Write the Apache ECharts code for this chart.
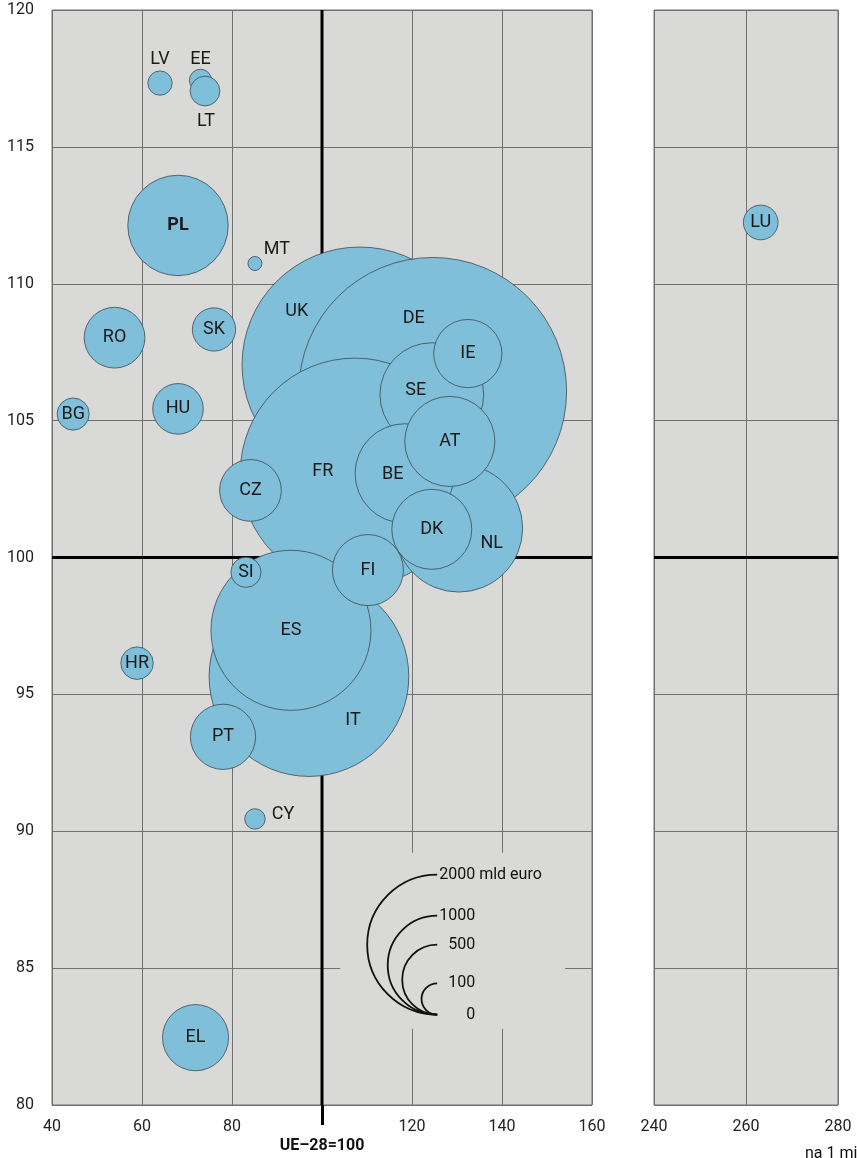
<!DOCTYPE html>
<html>
<head>
<meta charset="utf-8">
<script src="https://cdn.jsdelivr.net/npm/echarts@6/dist/echarts.min.js"></script>
<style>
  html, body { margin: 0; padding: 0; background: #fff; }
  #chart { width: 857px; height: 1158px; }
</style>
</head>
<body>
<div id="chart"></div>
<script>
// country codes in drawing order (first drawn = bottom)
const codes = ['UK', 'DE', 'FR', 'IT', 'ES', 'SE', 'NL', 'BE', 'IE', 'AT', 'DK', 'FI', 'CZ', 'SI', 'PT',
  'PL', 'MT', 'RO', 'SK', 'HU', 'BG', 'LV', 'EE', 'LT', 'HR', 'CY', 'EL', 'LU'];
// x: UE-28 = 100
const xVals = [108.4, 124.6, 107.3, 97.1, 93.1, 124.4, 130.4, 118.4, 132.4, 128.4, 124.4, 110.2, 84.1, 83.1, 78.0,
  68.0, 85.1, 53.9, 76.0, 68.0, 44.7, 64.0, 73.0, 74.0, 58.9, 85.1, 71.9, 263.2];
const yVals = [107.04, 106.07, 103.1, 95.65, 97.34, 105.95, 101.07, 103.07, 107.45, 104.24, 101.03, 99.54, 102.45, 99.46, 93.45,
  112.13, 110.74, 108.03, 108.33, 105.43, 105.24, 117.33, 117.43, 117.04, 96.14, 90.45, 82.46, 112.24];
// bubble size: mld euro
const gdp = [2255, 2915, 2132, 1621, 1041, 437, 663, 402, 189, 330, 260, 205, 155, 37, 173,
  410, 8, 150, 76, 104, 42, 24, 20, 36, 43, 17, 178, 49];

const xTicksLeft = [40, 60, 80, 120, 140, 160];
const legendValues = [2000, 1000, 500, 100, 0];
const legendAnchor = [125.6, 83.3];
const refX = 100, refY = 100;

const FONT = '"Roboto", "Liberation Sans", sans-serif';
const bubbleK = 2.48;      // px per sqrt(mld euro)
const legendK = 1.565;
const gridColor = '#707070';
const bg = '#d9dad8';

// label shifts for crowded bubbles (px)
const labelShift = {
  LV: [0, -24], EE: [0, -21], LT: [1, 30], MT: [22, -14], CY: [28, -4],
  UK: [-63, -53], DE: [-19, -73], FR: [-32, -1], SE: [-16, -4], BE: [-12, 1],
  NL: [33, 15], IT: [44, 44]
};

function items(right) {
  const out = [];
  codes.forEach((c, i) => {
    if ((xVals[i] > 200) !== right) return;
    out.push({
      name: c,
      value: [xVals[i], yVals[i], gdp[i]],
      label: {
        offset: labelShift[c] || [0, 0],
        fontWeight: c === 'PL' ? 'bold' : 'normal'
      }
    });
  });
  return out;
}

const chart = echarts.init(document.getElementById('chart'));

const axisText = { fontSize: 16, color: '#222', fontFamily: FONT };
const bubbleStyle = {
  type: 'scatter',
  symbolSize: v => 2 * bubbleK * Math.sqrt(v[2]),
  itemStyle: { color: '#7fbfd9', borderColor: '#3c4a52', borderWidth: 0.8, opacity: 1 },
  label: { show: true, position: 'inside', formatter: '{b}', fontSize: 18, color: '#1a1a1a', fontFamily: FONT },
  emphasis: { disabled: true },
  silent: true,
  z: 3
};
const refLine = { type: 'line', symbol: 'none', silent: true, z: 2, lineStyle: { color: '#000', width: 3 } };

let option = {
  animation: false,
  backgroundColor: '#fff',
  grid: [
    { left: 52, top: 10, width: 540, height: 1095, show: true, backgroundColor: bg, borderColor: gridColor, borderWidth: 1 },
    { left: 654, top: 10, width: 184, height: 1095, show: true, backgroundColor: bg, borderColor: gridColor, borderWidth: 1 }
  ],
  xAxis: [
    {
      gridIndex: 0, type: 'value', min: 40, max: 160, interval: 20,
      axisLine: { show: false }, axisTick: { show: false },
      splitLine: { lineStyle: { color: gridColor, width: 1 } },
      axisLabel: Object.assign({ customValues: xTicksLeft, margin: 14 }, axisText)
    },
    {
      gridIndex: 0, type: 'value', min: 40, max: 160, position: 'bottom',
      axisLine: { show: false }, splitLine: { show: false },
      axisTick: { show: true, customValues: [refX], length: 20, lineStyle: { color: '#000', width: 3 } },
      axisLabel: Object.assign({ customValues: [refX], margin: 33, formatter: () => 'UE–28=100' }, axisText, { fontWeight: 'bold', color: '#111' })
    },
    {
      gridIndex: 1, type: 'value', min: 240, max: 280, interval: 20,
      axisLine: { show: false }, axisTick: { show: false },
      splitLine: { lineStyle: { color: gridColor, width: 1 } },
      axisLabel: Object.assign({ margin: 14 }, axisText)
    }
  ],
  yAxis: [
    {
      gridIndex: 0, type: 'value', min: 80, max: 120, interval: 5,
      axisLine: { show: false }, axisTick: { show: false },
      splitLine: { lineStyle: { color: gridColor, width: 1 } },
      axisLabel: Object.assign({ margin: 18 }, axisText)
    },
    {
      gridIndex: 1, type: 'value', min: 80, max: 120, interval: 5,
      axisLine: { show: false }, axisTick: { show: false }, axisLabel: { show: false },
      splitLine: { lineStyle: { color: gridColor, width: 1 } }
    }
  ],
  series: [
    Object.assign({}, refLine, { xAxisIndex: 0, yAxisIndex: 0, data: [[refX, 80], [refX, 120]] }),
    Object.assign({}, refLine, { xAxisIndex: 0, yAxisIndex: 0, data: [[40, refY], [160, refY]] }),
    Object.assign({}, refLine, { xAxisIndex: 2, yAxisIndex: 1, data: [[240, refY], [280, refY]] }),
    Object.assign({}, bubbleStyle, { xAxisIndex: 0, yAxisIndex: 0, data: items(false) }),
    Object.assign({}, bubbleStyle, { xAxisIndex: 2, yAxisIndex: 1, data: items(true) })
  ]
};
chart.setOption(option);

// size legend
const [ax, ay] = chart.convertToPixel({ xAxisIndex: 0, yAxisIndex: 0 }, legendAnchor);
const g = [{
  type: 'rect', z: 1, silent: true,
  shape: { x: ax - 97, y: ay - 162, width: 225, height: 176 },
  style: { fill: bg }
}];
legendValues.forEach(v => {
  const r = legendK * Math.sqrt(v);
  if (r > 0) {
    g.push({
      type: 'arc', z: 5, silent: true,
      shape: { cx: ax, cy: ay - r, r: r, startAngle: Math.PI / 2, endAngle: Math.PI * 1.5, clockwise: true },
      style: { stroke: '#111', lineWidth: 1.8, fill: null }
    });
  }
  g.push({
    type: 'text', z: 5, silent: true,
    style: { x: ax + 38, y: ay - 2 * r, text: String(v), align: 'right', verticalAlign: 'middle', fontSize: 16, fontFamily: FONT, fill: '#111' }
  });
  if (v === legendValues[0]) {
    g.push({
      type: 'text', z: 5, silent: true,
      style: { x: ax + 42, y: ay - 2 * r, text: 'mld euro', align: 'left', verticalAlign: 'middle', fontSize: 16, fontFamily: FONT, fill: '#111' }
    });
  }
});
g.push({
  type: 'text', z: 5, silent: true,
  style: { x: 805, y: 1146, text: 'na 1 mieszkańca', align: 'left', verticalAlign: 'top', fontSize: 16, fontFamily: FONT, fill: '#111' }
});
chart.setOption({ graphic: g });
</script>
</body>
</html>
